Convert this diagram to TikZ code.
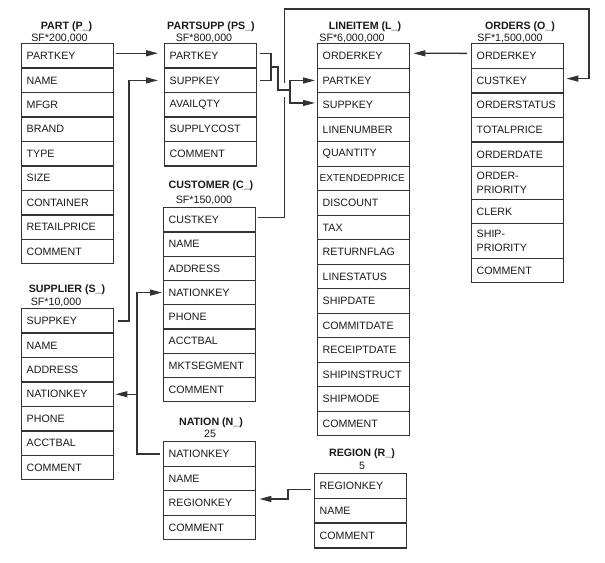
\documentclass[tikz,border=0pt]{standalone}
\usepackage{fontspec}
\setmainfont{Liberation Sans}
\usetikzlibrary{arrows.meta}
\definecolor{linec}{HTML}{333333}
\definecolor{txt}{HTML}{1A1A1A}
\newcommand\mktable[5]{%
  \foreach \t [count=\i] in {#5} {%
    \node[row, minimum height={#4*0.75pt}] (#1-\i) at (#2,{#3+(\i-1)*#4}) {\t};
  }}
\begin{document}
\begin{tikzpicture}[x=0.75pt,y=-0.75pt,
  row/.style={draw=linec, line width=1.05pt, anchor=north west, minimum width=69pt,
    text width=61.5pt, inner xsep=3.75pt, inner ysep=0pt, align=left,
    font=\fontsize{8}{10.5}\selectfont, text=txt},
  ttl/.style={anchor=base, inner sep=0pt, font=\bfseries\fontsize{8}{10}\selectfont, text=txt},
  sf/.style={anchor=base, inner sep=0pt, font=\fontsize{8}{10}\selectfont, text=txt},
  conn/.style={draw=linec, line width=1pt},
  arr/.style={conn, -{Triangle[length=9pt,width=4.5pt]}}]
\useasboundingbox[fill=white] (0,0) rectangle (605,562);

% ---------- tables ----------
\mktable{pa}{21}{43}{24.45}{PARTKEY,NAME,MFGR,BRAND,TYPE,SIZE,CONTAINER,RETAILPRICE,COMMENT}
\mktable{ps}{164}{43}{24.45}{PARTKEY,SUPPKEY,AVAILQTY,SUPPLYCOST,COMMENT}
\mktable{li}{317}{43}{24.5}{ORDERKEY,PARTKEY,SUPPKEY,LINENUMBER,QUANTITY,{\hspace*{-2.25pt}\makebox[0pt][l]{\fontsize{7.5}{9}\selectfont EXTENDEDPRICE}},DISCOUNT,TAX,RETURNFLAG,LINESTATUS,SHIPDATE,COMMITDATE,RECEIPTDATE,SHIPINSTRUCT,SHIPMODE,COMMENT}
\mktable{cu}{163}{207}{24.25}{CUSTKEY,NAME,ADDRESS,NATIONKEY,PHONE,ACCTBAL,MKTSEGMENT,COMMENT}
\mktable{su}{21}{308}{24.43}{SUPPKEY,NAME,ADDRESS,NATIONKEY,PHONE,ACCTBAL,COMMENT}
\mktable{na}{163}{441}{24.5}{NATIONKEY,NAME,REGIONKEY,COMMENT}
\mktable{re}{314}{473}{24.7}{REGIONKEY,NAME,COMMENT}

\node[row, minimum height=18.45pt] (or-1) at (471,43) {ORDERKEY};
\node[row, minimum height=18.45pt] (or-2) at (471,67.6) {CUSTKEY};
\node[row, minimum height=18.45pt] (or-3) at (471,92.2) {ORDERSTATUS};
\node[row, minimum height=18.45pt] (or-4) at (471,116.8) {TOTALPRICE};
\node[row, minimum height=18.45pt] (or-5) at (471,141.4) {ORDERDATE};
\node[row, minimum height=24.75pt] (or-6) at (471,166) {ORDER-\\PRIORITY};
\node[row, minimum height=18pt] (or-7) at (471,199) {CLERK};
\node[row, minimum height=26.25pt] (or-8) at (471,223) {SHIP-\\PRIORITY};
\node[row, minimum height=18pt] (or-9) at (471,258) {COMMENT};

% ---------- titles ----------
\node[ttl] (pa-t) at (66.5,29) {PART (P\_)};
\node[sf] (pa-s) at (59.5,41.7) {SF*200,000};
\node[ttl] (ps-t) at (211,29) {PARTSUPP (PS\_)};
\node[sf] (ps-s) at (204,41.7) {SF*800,000};
\node[ttl] (li-t) at (365,29) {LINEITEM (L\_)};
\node[sf] (li-s) at (352,41.7) {SF*6,000,000};
\node[ttl] (or-t) at (520,29) {ORDERS (O\_)};
\node[sf] (or-s) at (510,41.7) {SF*1,500,000};
\node[ttl] (cu-t) at (211,188.3) {CUSTOMER (C\_)};
\node[sf] (cu-s) at (204,203.3) {SF*150,000};
\node[ttl] (su-t) at (67,292.7) {SUPPLIER (S\_)};
\node[sf] (su-s) at (56,305.7) {SF*10,000};
\node[ttl] (na-t) at (211,425) {NATION (N\_)};
\node[sf] (na-s) at (210,437.7) {25};
\node[ttl] (re-t) at (362,456.7) {REGION (R\_)};
\node[sf] (re-s) at (362,469.3) {5};

% ---------- bus coordinates ----------
\coordinate (xS) at (129,0);
\coordinate (xN) at (137,0);
\coordinate (cTop) at (284.5,9);
\coordinate (oTop) at (589,9);
\coordinate (jP) at (271,67);
\coordinate (kP) at (278,67);
\coordinate (lP) at (290,90);

% ---------- connectors ----------
\draw[arr] ([xshift=1.5pt,yshift=2pt]pa-1.east) -- ([xshift=-4.5pt,yshift=2pt]ps-1.west);
\draw[arr] ([xshift=3pt]su-1.east) -- (su-1.east -| xS) -- (ps-2.west -| xS) -- ([xshift=-4.5pt]ps-2.west);

\draw[arr] ([xshift=1.5pt,yshift=2pt]cu-1.east) -| (cTop) -- (oTop) |- ([xshift=1.5pt,yshift=1.5pt]or-2.east);
\fill[white] (282,83) rectangle (287,97);

\draw[conn] ([xshift=2.25pt,yshift=2pt]ps-1.east) -| (jP);
\draw[conn] ([xshift=2.25pt]ps-2.east) -| (jP);
\draw[conn] (jP) -- (kP) |- (lP);
\draw[arr] (lP) |- ([xshift=-1.5pt]li-2.west);
\draw[arr] (lP) |- ([xshift=-1.5pt,yshift=1.5pt]li-3.west);

\draw[arr] ([xshift=-3pt,yshift=2pt]or-1.west) -- ([xshift=2.25pt,yshift=2pt]li-1.east);

\draw[arr] ([xshift=-2.25pt]na-1.west) -| (cu-4.west -| xN) -- ([xshift=-0.75pt]cu-4.west);
\draw[arr] (su-4.east -| xN) -- ([xshift=0.75pt]su-4.east);

\draw[arr] ([xshift=-2.25pt,yshift=-2.5pt]re-1.west) -- ++(-23,0) |- ([xshift=2.25pt,yshift=3pt]na-3.east);
\end{tikzpicture}
\end{document}
